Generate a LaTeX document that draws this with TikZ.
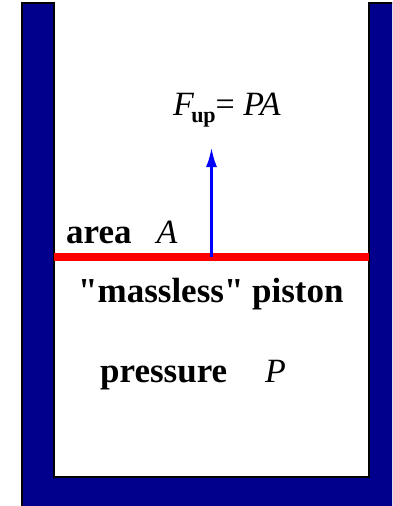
\documentclass[tikz,border=0pt]{standalone}
\usepackage{fontspec}
\setmainfont{Liberation Serif}[Ligatures=TeXOff]
\usepackage{xcolor}
\usetikzlibrary{arrows.meta,positioning}
\definecolor{wallblue}{HTML}{00008C}
\definecolor{pistonred}{HTML}{FF0000}
\definecolor{forceblue}{HTML}{0000FF}
\tikzset{
  wall/.style={fill=wallblue,draw=black,line width=1.5pt,line join=miter},
  piston/.style={fill=pistonred,inner sep=0pt,minimum width=315pt,minimum height=8pt},
  lbl/.style={anchor=base west,inner sep=0pt,font=\fontsize{35}{40}\selectfont\bfseries},
  force/.style={-{Latex[length=20pt,width=11pt]},line width=3pt,color=forceblue}
}

\begin{document}
\begin{tikzpicture}[x=1pt,y=-1pt]
  \useasboundingbox (0,0) rectangle (392,506);
  \clip (0,0) rectangle (392,506);
  % cylinder
  \draw[wall] (22,3) -- (54,3) -- (54,477) -- (369,477) -- (369,3) -- (400,3)
    -- (400,515) -- (22,515) -- cycle;
  \node[piston] (piston) at (211.5,257) {};
  \coordinate (tip) at (211.5,147);
  \draw[force] (piston.center) -- (tip);
  \node[lbl,font=\fontsize{34}{40}\selectfont] (fup) at (173,115)
    {\textit{F}\kern-3pt\raisebox{-7pt}{\fontsize{22}{24}\selectfont\bfseries up}= \textit{PA}};
  \node[lbl] (area) at (66,243) {area\hspace{25pt}{\fontsize{34}{40}\selectfont\mdseries\itshape A}};
  \node[lbl] (massless) at (78,302) {"massless" piston};
  \node[lbl] (pressure) at (100,382) {pressure\hspace{38pt}{\fontsize{34}{40}\selectfont\mdseries\itshape P}};
\end{tikzpicture}
\end{document}
